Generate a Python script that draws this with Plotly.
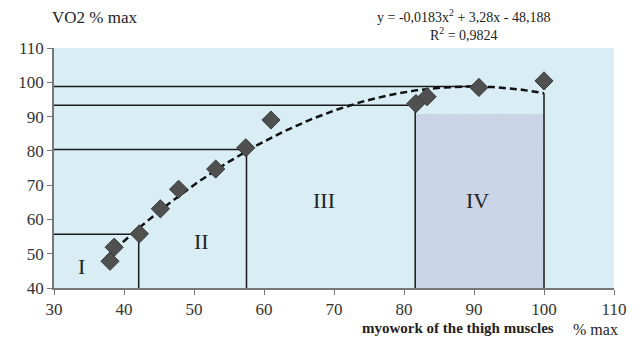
import numpy as np
import plotly.graph_objects as go

# Data
work_pct = [38.0, 38.6, 42.2, 45.2, 47.8, 53.1, 57.4, 61.0, 81.7, 83.3, 90.7, 100.0]
vo2_pct = [47.8, 51.9, 55.8, 63.1, 68.8, 74.7, 80.9, 89.0, 93.8, 95.8, 98.5, 100.4]

# Trendline coefficients (from the displayed equation)
coef_a, coef_b, coef_c = -0.0183, 3.28, -48.188
trend_x_range = [37.5, 100.0]

# Zone boundary guide lines: (x, y)
guide_x = [42.1, 57.5, 81.6, 100.0]
guide_y = [55.7, 80.4, 93.3, 96.8]
top_line = (90.7, 98.8)

zone_labels = ["I", "II", "III", "IV"]
zone_label_x = [33.9, 51.0, 68.6, 90.5]
zone_label_y = [46.3, 53.6, 65.6, 65.6]

hatch_x = [81.6, 100.0]
hatch_top = 90.8

x_ticks = [30, 40, 50, 60, 70, 80, 90, 100, 110]
y_ticks = [40, 50, 60, 70, 80, 90, 100, 110]

FONT = "Liberation Serif, Times New Roman, serif"

fig = go.Figure()

# hatched zone IV
fig.add_trace(go.Bar(
    x=[(hatch_x[0] + hatch_x[1]) / 2], y=[hatch_top - 40], base=[40],
    width=[hatch_x[1] - hatch_x[0]],
    marker=dict(color="#c6d1e4", line=dict(width=0),
                pattern=dict(shape="/", fgcolor="#e0e7f1", bgcolor="#c6d1e4", size=3, solidity=0.3)),
    showlegend=False, hoverinfo="skip"))

line_style = dict(color="#1a1a1a", width=1.5)
for gx, gy in zip(guide_x, guide_y):
    if gx < 100:
        fig.add_trace(go.Scatter(x=[30, gx], y=[gy, gy], mode="lines", line=line_style,
                                 showlegend=False, hoverinfo="skip"))
    fig.add_trace(go.Scatter(x=[gx, gx], y=[40, gy], mode="lines", line=line_style,
                             showlegend=False, hoverinfo="skip"))
fig.add_trace(go.Scatter(x=[30, top_line[0]], y=[top_line[1], top_line[1]], mode="lines",
                         line=line_style, showlegend=False, hoverinfo="skip"))

# trendline
tx = np.linspace(trend_x_range[0], trend_x_range[1], 200)
ty = coef_a * tx ** 2 + coef_b * tx + coef_c
fig.add_trace(go.Scatter(x=tx, y=ty, mode="lines",
                         line=dict(color="#111111", width=2.5, dash="7px,4px"),
                         showlegend=False, hoverinfo="skip"))

# data points
fig.add_trace(go.Scatter(x=work_pct, y=vo2_pct, mode="markers",
                         marker=dict(symbol="diamond", size=14, color="#505050",
                                     line=dict(color="#3a3a3a", width=1)),
                         showlegend=False))

for t, lx, ly in zip(zone_labels, zone_label_x, zone_label_y):
    fig.add_annotation(x=lx, y=ly, text=t, showarrow=False,
                       font=dict(family=FONT, size=22, color="#222222"))

fig.add_annotation(xref="paper", yref="paper", x=-0.007, y=1.128, xanchor="left", yanchor="middle",
                   text="VO2 % max", showarrow=False, font=dict(family=FONT, size=17, color="#222"))
fig.add_annotation(xref="paper", yref="paper", x=0.732, y=1.094, xanchor="center", yanchor="middle",
                   text="y = -0,0183x<sup>2</sup> + 3,28x - 48,188<br>R<sup>2</sup> = 0,9824",
                   showarrow=False, font=dict(family=FONT, size=14, color="#222"))
fig.add_annotation(xref="paper", yref="paper", x=0.722, y=-0.166, xanchor="center", yanchor="middle",
                   text="<b>myowork of the thigh muscles</b>", showarrow=False,
                   font=dict(family=FONT, size=15, color="#222"))
fig.add_annotation(xref="paper", yref="paper", x=0.967, y=-0.172, xanchor="center", yanchor="middle",
                   text="% max", showarrow=False, font=dict(family=FONT, size=16, color="#222"))

fig.update_layout(
    width=638, height=340,
    margin=dict(l=54, r=22, t=48, b=52),
    paper_bgcolor="white", plot_bgcolor="#d8edf4",
    bargap=0,
    xaxis=dict(range=[30, 110], tickvals=x_ticks, showgrid=False, zeroline=False,
               showline=True, linecolor="#777", linewidth=1.5, ticks="outside", ticklen=5,
               tickcolor="#777", tickfont=dict(family=FONT, size=17, color="#333")),
    yaxis=dict(range=[40, 110], tickvals=y_ticks, showgrid=False, zeroline=False,
               showline=True, linecolor="#777", linewidth=1.5, ticks="outside", ticklen=5,
               tickcolor="#777", tickfont=dict(family=FONT, size=17, color="#333")),
)

fig.write_html("out.html", config={"displayModeBar": False},
               post_script="document.body.style.margin='0';document.body.style.overflow='hidden';")
